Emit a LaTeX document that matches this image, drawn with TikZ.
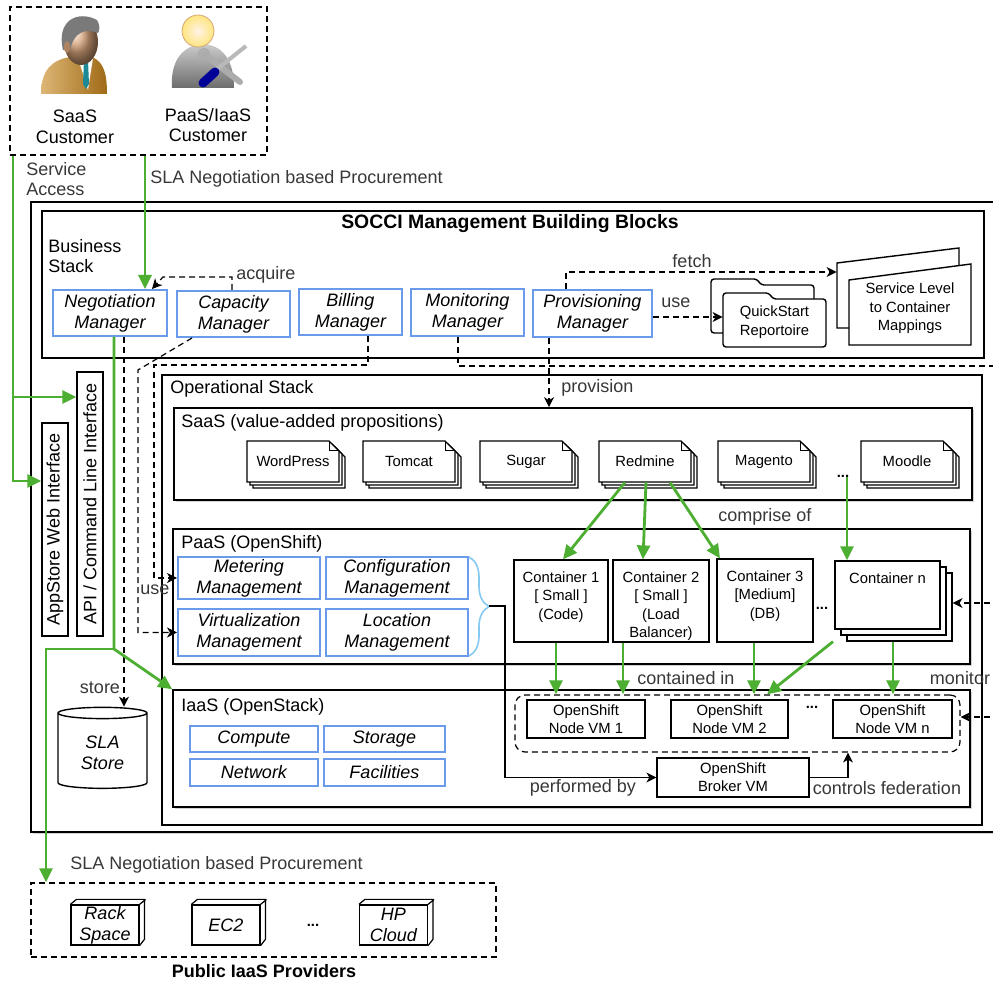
\documentclass[tikz,border=0pt]{standalone}
\usepackage{fontspec}
\setmainfont{Liberation Sans}
\usetikzlibrary{positioning,arrows.meta,fit,shapes.geometric,shadows,decorations.pathreplacing}
\definecolor{mblue}{HTML}{6A9BEA}
\definecolor{sgreen}{HTML}{4DAF32}
\definecolor{bracec}{HTML}{85C9F2}
\definecolor{lblgray}{HTML}{383838}
\definecolor{suit}{HTML}{C7851B}
\definecolor{skin}{HTML}{D8A47A}
\definecolor{hairc}{HTML}{7A7A7A}
\definecolor{tiec}{HTML}{1C8A96}
\newcommand\bigtxt{\fontsize{9}{10.4}\selectfont}
\newcommand\smtxt{\fontsize{7.4}{9.2}\selectfont}

\begin{document}
\begin{tikzpicture}[x=0.5pt, y=-0.5pt, font=\bigtxt,
  mgr/.style={draw=mblue, line width=1pt, fill=white, inner sep=0pt},
  pln/.style={draw, line width=0.6pt, fill=white, inner sep=0pt},
  lay/.style={draw, line width=0.8pt, fill=white, inner sep=0pt, drop shadow={opacity=0.35, shadow xshift=0.8pt, shadow yshift=-1.2pt}},
  dbox/.style={draw, dash pattern=on 3pt off 2pt, line width=0.6pt, inner sep=0pt},
  grn/.style={draw=sgreen, line width=1.4pt, -{Triangle[length=7pt, width=6.5pt]}},
  dsh/.style={dash pattern=on 3pt off 2pt, line width=0.6pt, -{Stealth[length=5pt, width=5pt, inset=1.5pt]}},
  ar/.style={line width=0.6pt, -{Stealth[length=5pt, width=5pt, inset=1.5pt]}},
  lbl/.style={text=lblgray, inner sep=1pt},
  ttl/.style={anchor=west, inner sep=0pt, align=left},
  mtxt/.style={align=center, inner sep=0pt, font=\bigtxt\itshape},
  ctxt/.style={align=center, font=\smtxt, inner sep=0pt},
  dots/.style={font=\smtxt\bfseries, inner sep=0pt}]
\useasboundingbox (0,0) rectangle (993,983);

% customers
\node[dbox, fit={(10,7) (267,155)}] (cust) {};
\shade[left color=suit!60!white, right color=suit!80!black] (41,94) .. controls (41,70) and (52,60) .. (70,57) -- (92,57) .. controls (104,62) and (107,74) .. (107,94) -- cycle;
\fill[white] (78,58) -- (93,58) -- (88,90) -- cycle;
\fill[tiec] (84,60) -- (88,60) -- (89,84) -- (86,89) -- (83,84) -- cycle;
\shade[ball color=skin] (81,42) ellipse [x radius=17, y radius=23];
\fill[hairc] (63,50) .. controls (56,20) and (78,10) .. (97,20) .. controls (100,25) and (100,30) .. (98,33) .. controls (85,28) and (74,32) .. (70,50) -- cycle;
\fill[skin!80!black] (67,47) ellipse [x radius=3, y radius=6];
\shade[top color=gray!40, bottom color=gray!85!black] (172,88) .. controls (170,58) and (185,45) .. (203,44) .. controls (221,45) and (234,58) .. (234,88) -- cycle;
\shade[inner color=orange!10, outer color=orange!40!yellow!50, draw=brown!70] (198,31) circle [radius=16];
\draw[line width=3pt, gray!65, line cap=round] (204,54) -- (240,82);
\draw[line width=1.2pt, gray!65] (204,54) circle [radius=5];
\draw[line width=2pt, gray!55] (216,70) -- (246,46);
\draw[line width=4.5pt, blue!60!black, line cap=round] (203,83) -- (215,72);
\node[align=center] (saasc) at (75,127) {SaaS\\Customer};
\node[align=center] (paasc) at (208,125) {PaaS/IaaS\\Customer};
\node[lbl, ttl] (svc) at (26,179) {Service\\Access};
\node[lbl, ttl] (slatop) at (150,179) {SLA Negotiation based Procurement};

% management building blocks
\node[lay, line width=1pt, fit={(31,202) (1010,832)}] (socci) {};
\node[pln, line width=0.8pt, fit={(42,211) (984,358)}] (bus) {};
\node[font=\fontsize{9.7}{11}\selectfont\bfseries] at (510,224) {SOCCI Management Building Blocks};
\node[ttl] at (48,256) {Business\\Stack};
\node[mgr, fit={(53,290) (167,336)}] (neg) {};
\node[mtxt] at (neg) {Negotiation\\Manager};
\node[mgr, fit={(177,291) (290,337)}] (cap) {};
\node[mtxt] at (cap) {Capacity\\Manager};
\node[mgr, fit={(299,289) (402,335)}] (bill) {};
\node[mtxt] at (bill) {Billing\\Manager};
\node[mgr, fit={(411,289) (524,336)}] (mon) {};
\node[mtxt] at (mon) {Monitoring\\Manager};
\node[mgr, fit={(533,290) (652,337)}] (prov) {};
\node[mtxt] at (prov) {Provisioning\\Manager};

% repositories
\foreach \dx/\dy in {-12/-14, 0/0}
  \draw[fill=white, line width=0.7pt, rounded corners=1.5pt] ({723+\dx},{347+\dy}) -- ({723+\dx},{293+\dy}) -- ({769+\dx},{293+\dy}) -- ({773+\dx},{299+\dy}) -- ({826+\dx},{299+\dy}) -- ({826+\dx},{347+\dy}) -- cycle;
\node[inner sep=0pt, fit={(723,293) (826,347)}] (qs) {};
\node[ctxt] at ([yshift=-1pt]qs.center) {QuickStart\\Reportoire};
\draw[fill=white, line width=0.7pt] (837,328) -- (837,263) -- (959,248) -- (959,328) -- cycle;
\node[inner sep=0pt, fit={(837,248) (959,328)}] (slmb) {};
\draw[fill=white, line width=0.7pt] (849,345) -- (849,280) -- (971,264) -- (971,345) -- cycle;
\node[inner sep=0pt, fit={(849,272) (971,345)}] (slm) {};
\node[ctxt] at (slm) {Service Level\\to Container\\Mappings};

\draw[dsh] (cap.north -| 232,0) |- (163,277) -- (neg.north -| 152,0);
\node[lbl, ttl] at (236,275) {acquire};
\draw[dsh] (prov.north -| 566,0) |- (slmb.west |- 0,272);
\node[lbl] at (692,261) {fetch};
\draw[dsh] (prov.east |- 0,317) -- (qs.west |- 0,317);
\node[lbl] at (676,303) {use};

% user interfaces and SLA store
\node[pln, fit={(42,423) (68,636)}] (web) {};
\node[rotate=90] at (web.center) {AppStore Web Interface};
\node[pln, fit={(77,372) (103,636)}] (api) {};
\node[rotate=90] at (api.center) {API / Command Line Interface};
\node[cylinder, draw, fill=white, line width=0.7pt, shape border rotate=90, aspect=0.2, minimum width=44.5pt, minimum height=40.5pt, align=center, font=\bigtxt\itshape] (sla) at (102.5,752.5) {SLA\\Store};

% operational stack
\node[pln, line width=0.8pt, fit={(162,375) (982,825)}] (ops) {};
\node[ttl] at (170,389) {Operational Stack};
\node[lay, fit={(174,408) (972,500)}] (saas) {};
\node[ttl] at (181,423) {SaaS (value-added propositions)};
\node[lay, fit={(173,529) (970,664)}] (paas) {};
\node[ttl] at (181,544) {PaaS (OpenShift)};
\node[lay, fit={(173,690) (970,807)}] (iaas) {};
\node[ttl] at (181,707) {IaaS (OpenStack)};

% applications
\foreach \nm/\cx/\txt in {wp/293/WordPress, tc/409/Tomcat, sg/526/Sugar, rm/645/Redmine, mg/764/Magento, md/907/Moodle}{
  \foreach \o in {6,3,0}
    \draw[fill=white, line width=0.6pt] ({\cx-46+\o},{441+\o}) -- ({\cx+36+\o},{441+\o}) -- ({\cx+46+\o},{451+\o}) -- ({\cx+46+\o},{482+\o}) -- ({\cx-46+\o},{482+\o}) -- cycle;
  \draw[line width=0.5pt] ({\cx+36},441) |- ({\cx+46},451);
  \node[inner sep=0pt, fit={({\cx-46},441) ({\cx+46},482)}] (\nm) {};
  \node[ctxt] at (\nm) {\txt};
}
\node[dots] (sdots) at (843,476) {...};

% platform services
\node[mgr, fit={(178,557) (320,599)}] (met) {};
\node[mtxt] at (met) {Metering\\Management};
\node[mgr, fit={(326,557) (468,599)}] (conf) {};
\node[mtxt] at (conf) {Configuration\\Management};
\node[mgr, fit={(178,609) (320,656)}] (virt) {};
\node[mtxt] at (virt) {Virtualization\\Management};
\node[mgr, fit={(326,609) (468,656)}] (loc) {};
\node[mtxt] at (loc) {Location\\Management};
\draw[bracec, line width=0.8pt, decorate, decoration={brace, amplitude=10pt}] (469,557) -- (469,656);
\coordinate (brtip) at (489,606);

\node[pln, fit={(514,560) (608,642)}] (c1) {};
\node[ctxt, below=6pt of c1.north] {Container 1\\{[} Small ]\\(Code)};
\node[pln, fit={(613,560) (709,642)}] (c2) {};
\node[ctxt, below=6pt of c2.north] {Container 2\\{[} Small ]\\(Load\\Balancer)};
\node[pln, fit={(717,559) (813,642)}] (c3) {};
\node[ctxt, below=6pt of c3.north] {Container 3\\{[}Medium]\\(DB)};
\node[dots] at (822,608) {...};
\node[pln, fit={(847,573) (952,641)}] (cnb) {};
\node[pln, fit={(841,567) (946,635)}] (cnm) {};
\node[pln, fit={(835,561) (940,629)}] (cn) {};
\node[ctxt, below=6pt of cn.north] {Container n};

\draw[grn] (rm.south -| 625,0) -- (c1.north -| 563,0);
\draw[grn] (rm.south -| 646,0) -- (c2.north -| 643,0);
\draw[grn] (rm.south -| 670,0) -- (c3.north -| 720,0);
\draw[grn] (sdots.south -| 847,0) -- (cn.north -| 847,0);
\node[lbl] at (765,517) {comprise of};

% infrastructure
\node[mgr, fit={(190,726) (318,752)}] (comp) {};
\node[mtxt] at (comp) {Compute};
\node[mgr, fit={(324,726) (445,752)}] (stor) {};
\node[mtxt] at (stor) {Storage};
\node[mgr, fit={(190,759) (318,786)}] (net) {};
\node[mtxt] at (net) {Network};
\node[mgr, fit={(324,759) (445,786)}] (fac) {};
\node[mtxt] at (fac) {Facilities};

\node[dbox, rounded corners=5pt, fit={(515,695) (960,752)}] (vmgrp) {};
\node[pln, fit={(527,700) (645,738)}] (vm1) {};
\node[ctxt] at (vm1) {OpenShift\\Node VM 1};
\node[pln, fit={(671,700) (788,738)}] (vm2) {};
\node[ctxt] at (vm2) {OpenShift\\Node VM 2};
\node[dots] at (812,707) {...};
\node[pln, fit={(833,700) (952,738)}] (vmn) {};
\node[ctxt] at (vmn) {OpenShift\\Node VM n};
\node[pln, fit={(657,758) (809,797)}] (broker) {};
\node[ctxt] at (broker) {OpenShift\\Broker VM};

\draw[grn] (c1.south -| 556,0) -- (vmgrp.north -| 556,0);
\draw[grn] (c2.south -| 623,0) -- (vmgrp.north -| 623,0);
\draw[grn] (c3.south -| 754,0) -- (vmgrp.north -| 754,0);
\draw[grn] (cnb.south -| 833,0) -- (vmgrp.north -| 767,0);
\draw[grn] (cnb.south -| 893,0) -- (vmgrp.north -| 893,0);
\node[lbl] at (686,678) {contained in};

\draw[ar] (brtip) -- (505,606) |- (broker.west);
\node[lbl] at (583,788) {performed by};
\draw[ar] (broker.east) -| (vmgrp.south -| 848,0);
\node[lbl] at (887,788) {controls federation};

% management dashed links
\draw[dsh] (cap.south -| 192,0) -- (138,370) |- (virt.west);
\draw[dsh] (bill.south -| 368,0) |- (154,365) |- (met.west);
\node[lbl] at (155,590) {use};
\draw[dsh] (neg.south -| 124,0) -- (sla.north -| 124,0);
\node[lbl] at (100,688) {store};
\draw[dsh, -] (mon.south -| 458,0) |- (1000,366);
\draw[dsh] (1000,603) -- (cnb.east |- 0,603);
\draw[dsh] (1000,717) -- (vmgrp.east |- 0,717);
\node[lbl] at (960,678) {monitor};
\draw[dsh] (prov.south -| 549,0) -- (saas.north -| 549,0);
\node[lbl, ttl] at (561,388) {provision};

% public providers
\node[dbox, fit={(31,883) (496,957)}] (pub) {};
\node[lbl, ttl] at (70,865) {SLA Negotiation based Procurement};
\node[font=\bigtxt\bfseries] at (264,971) {Public IaaS Providers};
\foreach \nm/\cx/\txt in {rs/105/{Rack\\Space}, ec/226/EC2, hp/393.5/{HP\\Cloud}}{
  \node[pln, fit={({\cx-34},905) ({\cx+34},945)}] (\nm) {};
  \node[mtxt] at (\nm) {\txt};
  \draw[line width=0.6pt] (\nm.north west) -- ++(6,-5) -- ++(68,0) -- ++(0,40) -- (\nm.south east) (\nm.north east) -- ++(6,-5);
}
\node[dots] at (313,925) {...};

% green procurement and access flows
\coordinate (sbr) at (13,397);
\coordinate (gsplit) at (114,649);
\draw[grn] (cust.south west -| 13,0) |- (web.west |- 0,481);
\draw[grn] (sbr) -- (api.west |- 0,397);
\draw[grn] (cust.south -| 145,0) -- (neg.north -| 145,0);
\draw[grn] (neg.south -| 114,0) -- (gsplit) -- (iaas.north west);
\draw[grn] (gsplit) -| (pub.north -| 46,0);
\end{tikzpicture}
\end{document}
